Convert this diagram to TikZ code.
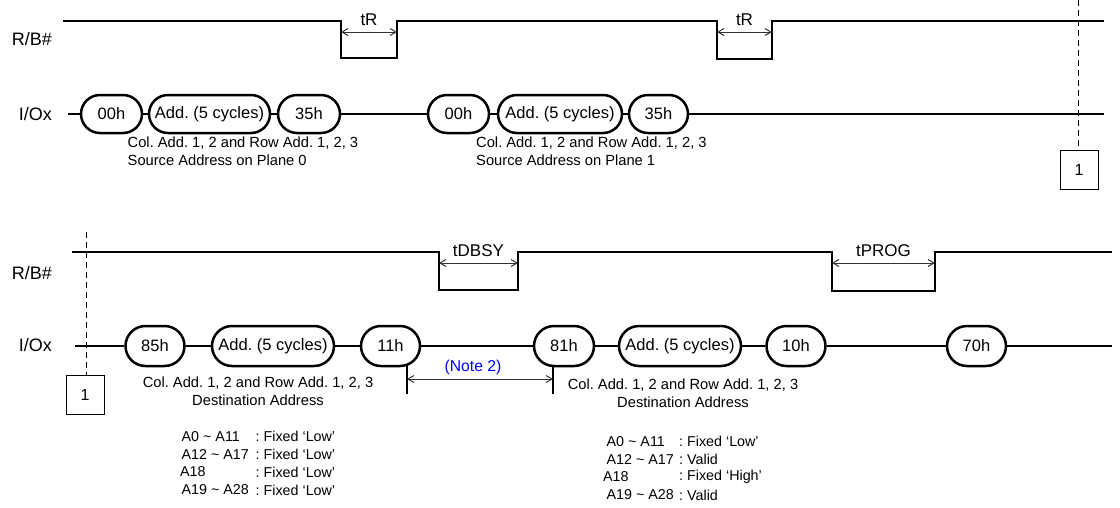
\documentclass[tikz,border=0pt]{standalone}
\usepackage{fontspec}
\setmainfont{Liberation Sans}
\usetikzlibrary{shapes.misc,arrows.meta}
\frenchspacing
\newcommand{\tld}{\textasciitilde}
\begin{document}
\begin{tikzpicture}[x=1pt,y=-1pt,
  sig/.style={line width=2.6pt,line join=miter},
  cmd/.style={rounded rectangle,draw,line width=2.5pt,inner sep=0pt,font=\fontsize{16.5}{18}\selectfont},
  cmdt/.style={cmd,minimum height=38pt},
  cmdb/.style={cmd,minimum height=40pt},
  dim/.style={line width=1pt,{Straight Barb[length=6pt,width=7pt]}-{Straight Barb[length=6pt,width=7pt]},draw=black!80},
  lbl/.style={font=\fontsize{18}{20}\selectfont,inner sep=0pt},
  tlbl/.style={font=\fontsize{17}{19}\selectfont,inner sep=0pt},
  note/.style={font=\fontsize{14.7}{18}\selectfont,inner sep=0pt},
  guide/.style={line width=1pt,dash pattern=on 6pt off 4pt},
  refbox/.style={draw,line width=1pt,minimum width=38pt,minimum height=39pt,inner sep=0pt,font=\fontsize{16}{18}\selectfont},
  tick/.style={line width=2pt}]
\useasboundingbox (0,0) rectangle (1120,507);

% ---------- top half ----------
\node[lbl,anchor=east] (rb1) at (52,39) {R/B\#};
\node[lbl,anchor=east] (io1) at (52,114) {I/Ox};

\draw[sig] (63,21) -- (341,21) -- (341,58) -- (397,58) -- (397,21) -- (717,21) -- (717,59) -- (772,59) -- (772,21) -- (1104,21);
\coordinate (tr1l) at (341,32);
\coordinate (tr1r) at (397,32);
\coordinate (tr2l) at (717,32);
\coordinate (tr2r) at (772,32);
\draw[dim] (tr1l) -- (tr1r);
\draw[dim] (tr2l) -- (tr2r);
\node[tlbl] (tR1) at (369,20) {tR};
\node[tlbl] (tR2) at (744.5,20) {tR};

\node[cmdt,minimum width=61pt] (a1) at (111.5,114) {00h};
\node[cmdt,minimum width=121pt] (a2) at (209.5,114) {Add. (5 cycles)};
\node[cmdt,minimum width=62pt] (a3) at (309,114) {35h};
\node[cmdt,minimum width=61pt] (b1) at (458.5,114) {00h};
\node[cmdt,minimum width=124pt] (b2) at (560,114) {Add. (5 cycles)};
\node[cmdt,minimum width=59pt] (b3) at (658.5,114) {35h};
\coordinate (io1s) at (68,114);
\coordinate (io1e) at (1104,114);
\draw[sig] (io1s) -- (a1.west) (a1.east) -- (a2.west) (a2.east) -- (a3.west) (a3.east) -- (b1.west)
  (b1.east) -- (b2.west) (b2.east) -- (b3.west) (b3.east) -- (io1e);

\node[note,anchor=north west,align=left] (t1) at (127.5,137) {Col. Add. 1, 2 and Row Add. 1, 2, 3\\Source Address on Plane 0};
\node[note,anchor=north west,align=left] (t2) at (476,137) {Col. Add. 1, 2 and Row Add. 1, 2, 3\\Source Address on Plane 1};

\node[refbox] (box1) at (1079,169.5) {1};
\coordinate (g1top) at (1078,0);
\draw[guide] (g1top) -- (box1.north -| g1top);

% ---------- bottom half ----------
\node[lbl,anchor=east] (rb2) at (52,273) {R/B\#};
\node[lbl,anchor=east] (io2) at (52,345) {I/Ox};

\draw[sig] (72,252) -- (439,252) -- (439,290) -- (518,290) -- (518,252) -- (832,252) -- (832,291) -- (935,291) -- (935,252) -- (1112,252);
\coordinate (tdl) at (439,263);
\coordinate (tdr) at (518,263);
\coordinate (tpl) at (832,263);
\coordinate (tpr) at (935,263);
\draw[dim] (tdl) -- (tdr);
\draw[dim] (tpl) -- (tpr);
\node[tlbl] (tDBSY) at (478.5,251) {tDBSY};
\node[tlbl] (tPROG) at (883.5,251) {tPROG};

\node[cmdb,minimum width=59pt] (c1) at (155,346) {85h};
\node[cmdb,minimum width=122pt] (c2) at (273,346) {Add. (5 cycles)};
\node[cmdb,minimum width=59pt] (c3) at (390.5,346) {11h};
\node[cmdb,minimum width=60pt] (d1) at (564,346) {81h};
\node[cmdb,minimum width=122pt] (d2) at (680,346) {Add. (5 cycles)};
\node[cmdb,minimum width=59pt] (d3) at (796,346) {10h};
\node[cmdb,minimum width=59pt] (e1) at (976.5,346) {70h};
\coordinate (io2s) at (75,346);
\coordinate (io2e) at (1112,346);
\draw[sig] (io2s) -- (c1.west) (c1.east) -- (c2.west) (c2.east) -- (c3.west) (c3.east) -- (d1.west)
  (d1.east) -- (d2.west) (d2.east) -- (d3.west) (d3.east) -- (e1.west) (e1.east) -- (io2e);

\node[refbox] (box2) at (85,394.5) {1};
\coordinate (g2top) at (86,232);
\draw[guide] (g2top) -- (box2.north -| g2top);

% Note 2
\coordinate (n2lt) at (407,366);
\coordinate (n2lb) at (407,394);
\coordinate (n2rt) at (553,367);
\coordinate (n2rb) at (553,394);
\draw[tick] (n2lt) -- (n2lb);
\draw[tick] (n2rt) -- (n2rb);
\draw[dim] (407,379) -- (553,379);
\node[font=\fontsize{15.7}{18}\selectfont,text=blue,inner sep=0pt] (n2) at (473,367) {(Note 2)};

\node[note,align=center,anchor=north] (t3) at (258,377) {Col. Add. 1, 2 and Row Add. 1, 2, 3\\Destination Address};
\node[note,align=center,anchor=north] (t4) at (683,379) {Col. Add. 1, 2 and Row Add. 1, 2, 3\\Destination Address};

% address lists
\begin{scope}[every node/.style={note,anchor=west,font=\fontsize{14.3}{18}\selectfont}]
\node (l1a) at (181.5,436.5) {A0 \tld{} A11};
\node (l1b) at (181.5,454) {A12 \tld{} A17};
\node (l1c) at (180,472) {A18};
\node (l1d) at (181.5,490) {A19 \tld{} A28};
\node (l1e) at (255.5,436.5) {: Fixed ‘Low’};
\node (l1f) at (255.5,454) {: Fixed ‘Low’};
\node (l1g) at (255.5,472) {: Fixed ‘Low’};
\node (l1h) at (255.5,490) {: Fixed ‘Low’};
\node (r1a) at (606.5,441.5) {A0 \tld{} A11};
\node (r1b) at (606.5,459) {A12 \tld{} A17};
\node (r1c) at (603,477) {A18};
\node (r1d) at (606.5,495) {A19 \tld{} A28};
\node (r1e) at (679,441.5) {: Fixed ‘Low’};
\node (r1f) at (679,459) {: Valid};
\node (r1g) at (679,477) {: Fixed ‘High’};
\node (r1h) at (679,495) {: Valid};
\end{scope}
\end{tikzpicture}
\end{document}
